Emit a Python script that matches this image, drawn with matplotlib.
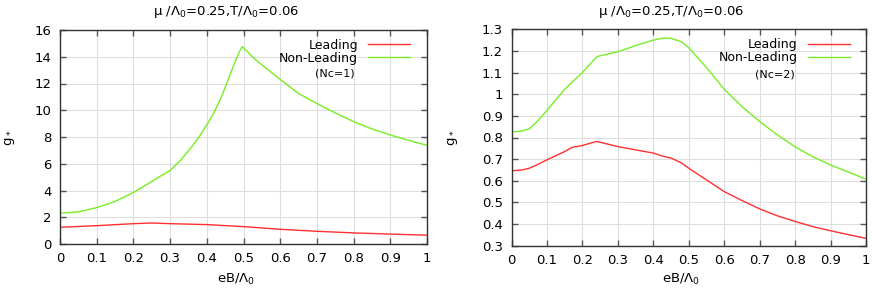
import matplotlib
matplotlib.use("Agg")
import matplotlib.pyplot as plt

plt.rcParams["font.family"] = ["DejaVu Sans"]
plt.rcParams["font.size"] = 9
plt.rcParams["mathtext.fontset"] = "dejavusans"

# ---------- data ----------
# Nc = 1
x1_lead = [0, 0.1, 0.2, 0.25, 0.3, 0.4, 0.5, 0.6, 0.7, 0.8, 0.9, 1.0]
g1_lead = [1.25, 1.37, 1.52, 1.57, 1.52, 1.45, 1.3, 1.1, 0.95, 0.83, 0.74, 0.66]

x1_nl = [0, 0.05, 0.1, 0.15, 0.2, 0.25, 0.3, 0.33, 0.36, 0.38, 0.4, 0.42, 0.44,
         0.46, 0.475, 0.49, 0.497, 0.51, 0.53, 0.55, 0.6, 0.65, 0.7, 0.75, 0.8,
         0.85, 0.9, 0.95, 1.0]
g1_nl = [2.3, 2.4, 2.72, 3.18, 3.85, 4.68, 5.5, 6.3, 7.3, 8.05, 8.9, 9.85, 11.0,
         12.4, 13.5, 14.45, 14.75, 14.4, 13.85, 13.4, 12.3, 11.25, 10.5, 9.8, 9.15,
         8.6, 8.15, 7.75, 7.38]

# Nc = 2
x2 = [0, 0.03, 0.05, 0.07, 0.1, 0.15, 0.17, 0.2, 0.24, 0.25, 0.3, 0.35, 0.4, 0.43,
      0.45, 0.48, 0.5, 0.55, 0.6, 0.65, 0.7, 0.75, 0.8, 0.85, 0.9, 0.95, 1.0]
g2_nl = [0.825, 0.83, 0.84, 0.87, 0.925, 1.023, 1.054, 1.1, 1.172, 1.178, 1.196,
         1.225, 1.25, 1.26, 1.258, 1.242, 1.215, 1.123, 1.023, 0.943, 0.874, 0.812,
         0.757, 0.711, 0.673, 0.641, 0.607]
g2_lead = [0.646, 0.65, 0.658, 0.672, 0.697, 0.735, 0.754, 0.763, 0.782, 0.778,
           0.758, 0.743, 0.728, 0.712, 0.705, 0.682, 0.658, 0.604, 0.55, 0.509,
           0.47, 0.438, 0.412, 0.388, 0.369, 0.351, 0.334]

xticks = [0, 0.1, 0.2, 0.3, 0.4, 0.5, 0.6, 0.7, 0.8, 0.9, 1]
xticklabels = ["0", "0.1", "0.2", "0.3", "0.4", "0.5", "0.6", "0.7", "0.8", "0.9", "1"]
yticks1 = [0, 2, 4, 6, 8, 10, 12, 14, 16]
yticks2 = [0.3, 0.4, 0.5, 0.6, 0.7, 0.8, 0.9, 1.0, 1.1, 1.2, 1.3]
yticklabels2 = ["0.3", "0.4", "0.5", "0.6", "0.7", "0.8", "0.9", "1", "1.1", "1.2", "1.3"]

RED = "#ff3030"
GREEN = "#77ee22"
title = "\u03bc /\u039b$_0$=0.25,T/\u039b$_0$=0.06"

W, H = 872, 291
fig = plt.figure(figsize=(W / 100, H / 100), dpi=100)


def px_axes(left, top, right, bottom):
    return fig.add_axes([left / W, 1 - bottom / H, (right - left) / W, (bottom - top) / H])


def style(ax):
    ax.grid(True, color="#dedede", lw=0.8)
    ax.set_axisbelow(True)
    ax.tick_params(direction="in", length=4.5, width=1, color="#555555",
                   top=True, right=True, pad=6, labelsize=9.5)
    for s in ax.spines.values():
        s.set_color("#333333")
        s.set_linewidth(1)
    ax.set_xlim(0, 1)
    ax.set_xticks(xticks)
    ax.set_xticklabels(xticklabels)


def add_legend(ax, handles):
    ax.legend(handles=handles, loc="upper right", bbox_to_anchor=(0.955, 0.96),
              frameon=False, markerfirst=False, handlelength=3.4, handletextpad=0.8,
              labelspacing=0.0, borderaxespad=0, borderpad=0, fontsize=9)


# ---------- left panel ----------
ax1 = px_axes(60, 30, 427, 244)
style(ax1)
l1, = ax1.plot(x1_lead, g1_lead, color=RED, lw=1, label="Leading")
n1, = ax1.plot(x1_nl, g1_nl, color=GREEN, lw=1, label="Non-Leading")
ax1.set_ylim(0, 16)
ax1.set_yticks(yticks1)
add_legend(ax1, [l1, n1])
ax1.text(0.804, 0.795, "(Nc=1)", transform=ax1.transAxes, ha="right", va="center", fontsize=8)

# ---------- right panel ----------
ax2 = px_axes(511.5, 29.3, 866, 245.7)
style(ax2)
l2, = ax2.plot(x2, g2_lead, color=RED, lw=1, label="Leading")
n2, = ax2.plot(x2, g2_nl, color=GREEN, lw=1, label="Non-Leading")
ax2.set_ylim(0.3, 1.3)
ax2.set_yticks(yticks2)
ax2.set_yticklabels(yticklabels2)
add_legend(ax2, [l2, n2])
ax2.text(0.80, 0.79, "(Nc=2)", transform=ax2.transAxes, ha="right", va="center", fontsize=8)

# ---------- titles and labels ----------
for cx, cy_lab, lx in [(226, 236, 10), (671, 681, 453)]:
    fig.text(cx / W, 1 - 12 / H, title, ha="center", va="center", fontsize=9.5)
    fig.text(cy_lab / W, 1 - 279 / H, "eB/\u039b$_0$", ha="center", va="center", fontsize=9.5)
    fig.text(lx / W, 1 - 138 / H, "g$_*$", ha="center", va="center", rotation=90, fontsize=9.5)

fig.savefig("out.png", dpi=100)
